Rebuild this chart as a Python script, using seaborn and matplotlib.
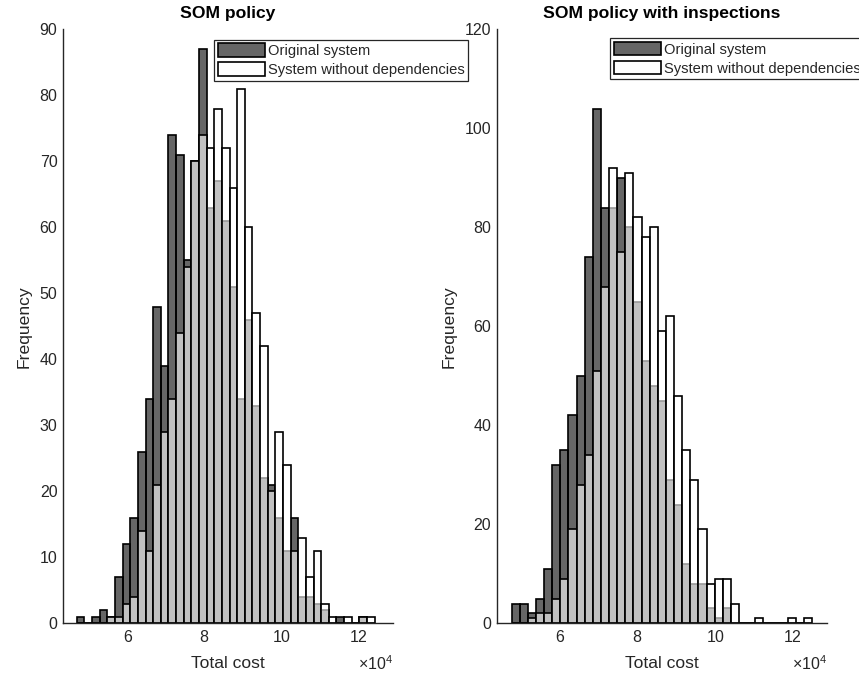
import numpy as np
import pandas as pd
import matplotlib
matplotlib.use("Agg")
import matplotlib.pyplot as plt
import matplotlib.transforms as mtransforms
from matplotlib.patches import Patch
from matplotlib.colors import to_rgba
import seaborn as sns

# ---------------- data ----------------
# Left panel: "SOM policy"
left_first_edge = 46700.0
left_bin_width = 1990.0
left_original = [1, 0, 1, 2, 1, 7, 12, 16, 26, 34, 48, 39, 74, 71, 55, 70, 87, 63, 67, 61,
                 51, 34, 46, 33, 22, 21, 16, 11, 16, 4, 4, 3, 2, 0, 1, 0, 0, 1, 0]
left_nodep = [0, 0, 0, 0, 1, 1, 3, 4, 14, 11, 21, 29, 34, 44, 54, 70, 74, 72, 78, 72,
              66, 81, 60, 47, 42, 20, 29, 24, 11, 13, 7, 11, 3, 1, 0, 1, 0, 1, 1]

# Right panel: "SOM policy with inspections"
right_first_edge = 47550.0
right_bin_width = 2092.0
right_original = [4, 4, 2, 5, 11, 32, 35, 42, 50, 74, 104, 84, 84, 90, 80, 65, 53, 48, 45,
                  29, 24, 12, 8, 8, 3, 1, 3, 0, 0, 0, 0, 0, 0, 0, 0, 0, 0]
right_nodep = [0, 0, 1, 2, 2, 5, 9, 19, 28, 34, 51, 68, 92, 75, 91, 82, 78, 80, 59,
               62, 46, 35, 29, 19, 8, 9, 9, 4, 0, 0, 1, 0, 0, 0, 1, 0, 1]

titles = ["SOM policy", "SOM policy with inspections"]
series_names = ["Original system", "System without dependencies"]
x_ticks = [60000, 80000, 100000, 120000]
left_yticks = [0, 10, 20, 30, 40, 50, 60, 70, 80, 90]
right_yticks = [0, 20, 40, 60, 80, 100, 120]

# ---------------- style ----------------
sns.set_style("white")
plt.rcParams["font.family"] = ["Liberation Sans", "DejaVu Sans"]
plt.rcParams["mathtext.fontset"] = "custom"
plt.rcParams["mathtext.rm"] = "Liberation Sans"
plt.rcParams["mathtext.it"] = "Liberation Sans:italic"
plt.rcParams["mathtext.bf"] = "Liberation Sans:bold"

axis_col = "#262626"
dark_face = to_rgba("black", 0.6)
light_face = to_rgba("white", 0.6)

fig = plt.figure(figsize=(8.59, 6.77), dpi=100)
ax1 = fig.add_axes([0.0733, 0.0793, 0.3838, 0.8774])
ax2 = fig.add_axes([0.5782, 0.0793, 0.3842, 0.8774])


def draw(ax, first_edge, width, orig, nodep, xlim, yticks, title, leg_anchor):
    n = len(orig)
    edges = first_edge + width * np.arange(n + 1)
    centers = edges[:-1] + width / 2
    df = pd.DataFrame({"cost": centers, "orig": orig, "nodep": nodep})
    sns.histplot(data=df, x="cost", weights="orig", bins=list(edges), ax=ax,
                 color="black", alpha=0.6, edgecolor="black", linewidth=1.2,
                 element="bars", fill=True)
    sns.histplot(data=df, x="cost", weights="nodep", bins=list(edges), ax=ax,
                 color="white", alpha=0.6, edgecolor="black", linewidth=1.2,
                 element="bars", fill=True)
    ax.set_xlim(*xlim)
    ax.set_ylim(yticks[0], yticks[-1])
    ax.set_xticks(x_ticks)
    ax.set_yticks(yticks)
    ax.ticklabel_format(axis="x", style="sci", scilimits=(4, 4), useMathText=True)
    off = ax.xaxis.get_offset_text()
    off.set_fontsize(11.5)
    off.set_color(axis_col)
    off.set_transform(off.get_transform() +
                      mtransforms.ScaledTranslation(0, -5 / 100, fig.dpi_scale_trans))
    for s in ["top", "right"]:
        ax.spines[s].set_visible(False)
    for s in ["left", "bottom"]:
        ax.spines[s].set_color(axis_col)
        ax.spines[s].set_linewidth(1.0)
    ax.tick_params(direction="in", length=5, width=1.0, color=axis_col,
                   labelcolor=axis_col, labelsize=11.5, pad=4)
    ax.set_xlabel("Total cost", fontsize=12.6, color=axis_col, labelpad=8)
    ax.set_ylabel("Frequency", fontsize=12.6, color=axis_col, labelpad=6)
    ax.set_title(title, fontsize=12.6, fontweight="bold", color="black", pad=8)
    handles = [Patch(facecolor=dark_face, edgecolor="black", linewidth=1.2),
               Patch(facecolor=light_face, edgecolor="black", linewidth=1.2)]
    leg = ax.legend(handles, series_names, loc="upper left", bbox_to_anchor=leg_anchor,
                    borderaxespad=0, fontsize=10.6, frameon=True, fancybox=False,
                    framealpha=1, edgecolor=axis_col, handlelength=3.2, handleheight=1.0,
                    handletextpad=0.2, labelspacing=0.3, borderpad=0.25)
    leg.get_frame().set_linewidth(0.9)
    leg.set_clip_on(False)


draw(ax1, left_first_edge, left_bin_width, left_original, left_nodep,
     (43100, 129000), left_yticks, titles[0], (0.458, 0.9825))
draw(ax2, right_first_edge, right_bin_width, right_original, right_nodep,
     (43700, 128700), right_yticks, titles[1], (0.343, 0.985))

fig.savefig("out.png", dpi=100)
